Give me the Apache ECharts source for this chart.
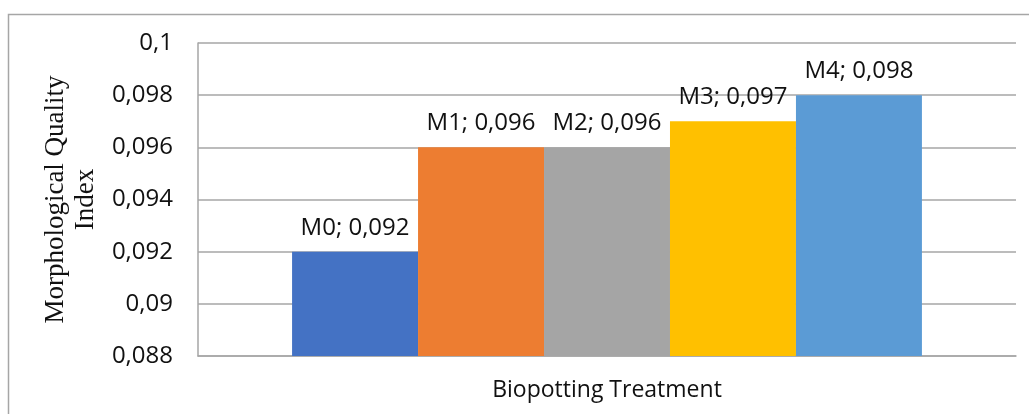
<!DOCTYPE html>
<html>
<head>
<meta charset="utf-8">
<script src="https://cdn.jsdelivr.net/npm/echarts@6/dist/echarts.min.js"></script>
<style>
html,body{margin:0;padding:0;background:#fff;}
#chart{width:1029px;height:414px;}
</style>
</head>
<body>
<div id="chart"></div>
<script>
// Data
const categories = [''];
const seriesNames = ['M0', 'M1', 'M2', 'M3', 'M4'];
const seriesValues = [0.092, 0.096, 0.096, 0.097, 0.098];
const seriesColors = ['#4472C4', '#ED7D31', '#A5A5A5', '#FFC000', '#5B9BD5'];
const yTicks = { min: 0.088, max: 0.1, interval: 0.002 };
const xAxisTitle = 'Biopotting Treatment';
const yAxisTitle = 'Morphological Quality\nIndex';

function fmt(v) {
  return String(parseFloat(Number(v).toFixed(4))).replace('.', ',');
}

const sansFont = '"Open Sans", Lato, sans-serif';

const chart = echarts.init(document.getElementById('chart'), null, { renderer: 'canvas' });
const series = seriesNames.map((name, i) => ({
  name: name,
  type: 'bar',
  data: [seriesValues[i]],
  barGap: '0%',
  barCategoryGap: '23%',
  itemStyle: { color: seriesColors[i] },
  label: {
    show: true,
    position: 'top',
    distance: 12,
    fontFamily: sansFont,
    fontSize: 24,
    color: '#111',
    formatter: p => p.seriesName + '; ' + fmt(p.value)
  },
  z: 2
}));

chart.setOption({
  animation: false,
  backgroundColor: '#fff',
  grid: { left: 198, right: 13, top: 43, bottom: 58, containLabel: false },
  graphic: [{
    type: 'rect',
    shape: { x: 8.5, y: 14.5, width: 1100, height: 500 },
    style: { fill: 'none', stroke: '#a6a6a6', lineWidth: 1.5 },
    silent: true, z: -10
  }],
  xAxis: {
    type: 'category',
    data: categories,
    name: xAxisTitle,
    nameLocation: 'middle',
    nameGap: 23,
    nameTextStyle: { fontFamily: sansFont, fontSize: 23, color: '#111', verticalAlign: 'top' },
    axisLine: { show: true, lineStyle: { color: '#a6a6a6', width: 1.5 } },
    axisTick: { show: false },
    axisLabel: { show: false }
  },
  yAxis: {
    type: 'value',
    min: yTicks.min,
    max: yTicks.max,
    interval: yTicks.interval,
    name: yAxisTitle,
    nameLocation: 'middle',
    nameGap: 91,
    nameRotate: 90,
    nameTextStyle: { fontFamily: '"Liberation Serif", "Times New Roman", serif', fontSize: 27, color: '#111', lineHeight: 30, align: 'center' },
    axisLine: { show: true, lineStyle: { color: '#a6a6a6', width: 1.5 } },
    axisTick: { show: false },
    splitLine: { show: true, lineStyle: { color: '#a6a6a6', width: 1.5 } },
    axisLabel: {
      margin: 25,
      fontFamily: sansFont,
      fontSize: 24,
      color: '#111',
      formatter: v => fmt(v)
    }
  },
  series: series
});
</script>
</body>
</html>
